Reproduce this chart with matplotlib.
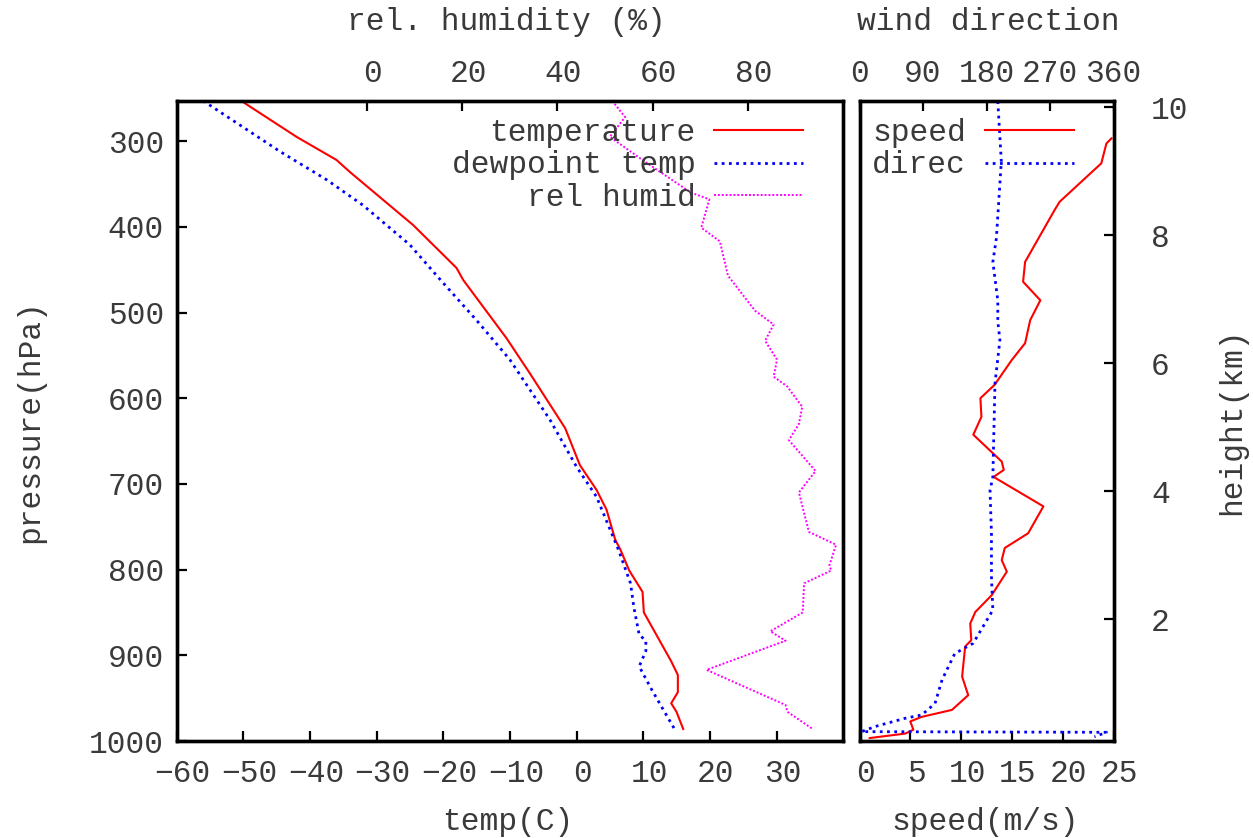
import matplotlib
matplotlib.use('Agg')
import matplotlib.pyplot as plt
from matplotlib.transforms import ScaledTranslation

plt.rcParams['font.family'] = ['Liberation Mono', 'DejaVu Sans Mono']
FS = 22.5
TXT = '#3a3a3a'

# ---- data ----
temp_p = [253, 295, 322, 336, 398, 448, 462, 530, 571, 635, 678, 707, 730, 765, 777,
          801, 826, 850, 907, 923, 943, 956, 966, 986]
temp_c = [-50.3, -42.0, -36.0, -34.0, -24.5, -18.0, -17.0, -10.5, -7.0, -1.7, 0.5, 3.0,
          4.5, 5.8, 6.6, 7.9, 9.9, 10.1, 14.2, 15.2, 15.2, 14.2, 15.0, 16.0]

dew_p = [253, 312, 345, 375, 421, 462, 509, 555, 625, 680, 715, 762, 777, 816, 844,
         876, 883, 895, 913, 939, 966, 986]
dew_c = [-56.0, -44.5, -37.5, -32.0, -25.0, -20.4, -15.0, -10.0, -4.0, 0.0, 3.0, 5.5,
         6.3, 8.1, 8.6, 9.4, 10.4, 10.4, 9.4, 11.2, 13.2, 14.7]

rh_p = [253, 272, 295, 323, 360, 368, 401, 417, 457, 498, 514, 533, 555, 575, 586, 610,
        630, 649, 685, 710, 756, 771, 795, 801, 816, 850, 872, 883, 917, 958, 966, 986]
rh_pct = [51.5, 54.2, 51.0, 58.1, 68.0, 71.9, 70.2, 74.1, 75.8, 81.5, 85.4, 83.6, 86.1,
          85.4, 88.2, 91.4, 90.7, 88.6, 94.2, 90.7, 92.8, 98.5, 97.1, 97.5, 91.8, 91.5,
          84.7, 87.9, 71.3, 87.9, 88.3, 93.6]

speed_h = [9.51, 9.43, 9.12, 8.52, 8.39, 7.58, 7.27, 6.98, 6.67, 6.31, 6.05, 5.66, 5.45,
           5.16, 4.88, 4.46, 4.33, 4.22, 3.76, 3.34, 3.11, 2.92, 2.74, 2.37, 2.11, 1.93,
           1.67, 1.57, 1.10, 0.81, 0.58, 0.47, 0.40, 0.27, 0.21, 0.14]
speed_ms = [24.8, 24.3, 23.8, 19.7, 19.2, 16.3, 16.1, 17.8, 16.8, 16.3, 15.0, 13.3, 11.9,
            12.0, 11.2, 14.0, 14.2, 13.2, 18.1, 16.6, 14.3, 14.0, 14.5, 13.0, 11.4, 10.9,
            11.0, 10.4, 10.1, 10.7, 9.1, 6.1, 5.0, 5.3, 4.5, 1.0]

dir_h = [10.09, 9.15, 7.95, 7.58, 6.98, 6.65, 6.36, 5.68, 4.22, 4.01, 3.34, 2.66, 2.14,
         1.62, 1.46, 1.05, 0.68, 0.50, 0.45, 0.32, 0.24, 0.23, 0.16]
dir_deg = [196, 201, 194, 189, 196, 196, 199, 192, 189, 185, 187, 187, 189, 161, 135,
           117, 107, 88, 65, 22, 3, 350, 333]

temp_ticks = [-60, -50, -40, -30, -20, -10, 0, 10, 20, 30]
p_ticks = [300, 400, 500, 600, 700, 800, 900, 1000]
rh_ticks = [0, 20, 40, 60, 80]
speed_ticks = [0, 5, 10, 15, 20, 25]
dir_ticks = [0, 90, 180, 270, 360]
h_ticks = [2, 4, 6, 8, 10]

# ---- figure ----
W, H = 1253, 838
fig = plt.figure(figsize=(W / 100, H / 100), dpi=100)


def rect(x0, x1, y0, y1):
    return [x0 / W, 1 - y1 / H, (x1 - x0) / W, (y1 - y0) / H]


ax1 = fig.add_axes(rect(176.5, 843.2, 101, 741))
ax1t = ax1.twiny()
ax2 = fig.add_axes(rect(859.5, 1113.5, 101, 741))
ax2t = ax2.twiny()

h_t, = ax1.plot(temp_c, temp_p, color='#ff0000', lw=1.5, label='temperature')
h_d, = ax1.plot(dew_c, dew_p, color='#0000ff', lw=2.0, ls=(0, (1, 1.6)), label='dewpoint temp')
h_r, = ax1t.plot(rh_pct, rh_p, color='#ff00ff', lw=1.4, ls=(0, (1, 1)), label='rel humid')

h_s, = ax2.plot(speed_ms, speed_h, color='#ff0000', lw=1.5, label='speed')
h_w, = ax2t.plot(dir_deg, dir_h, color='#0000ff', lw=2.0, ls=(0, (1, 1.6)), label='direc')

ax1.set_xlim(-60, 40)
ax1.set_ylim(1000, 253.2)
ax1.set_xticks(temp_ticks)
ax1.set_yticks(p_ticks)
ax1t.set_xlim(-40, 100)
ax1t.set_xticks(rh_ticks)

ax2.set_xlim(0, 25)
ax2.set_ylim(0.094, 10.094)
ax2.set_xticks(speed_ticks)
ax2.set_yticks(h_ticks)
ax2.yaxis.tick_right()
ax2.yaxis.set_label_position('right')
ax2t.set_xlim(0, 360)
ax2t.set_xticks(dir_ticks)

common = dict(direction='in', length=7, width=1.6, labelsize=FS, labelcolor=TXT, color='black')
ax1.tick_params(axis='x', bottom=True, top=False, pad=13, **common)
ax1.tick_params(axis='y', left=True, right=False, pad=9, **common)
ax1t.tick_params(axis='x', top=True, bottom=False, pad=9, **common)
ax2.tick_params(axis='x', bottom=True, top=False, pad=13, **common)
ax2.tick_params(axis='y', left=False, right=True, pad=27, **common)
ax2t.tick_params(axis='x', top=True, bottom=False, pad=9, **common)

# gnuplot-like slight right shift of horizontal tick labels
shift = ScaledTranslation(6 / 100, 0, fig.dpi_scale_trans)
for a in (ax1, ax1t, ax2):
    for lab in a.get_xticklabels():
        lab.set_transform(lab.get_transform() + shift)

for a in (ax1, ax1t, ax2, ax2t):
    for s in a.spines.values():
        s.set_linewidth(2.4)

# axis labels
ax1.set_xlabel('temp(C)', fontsize=FS, color=TXT, va='center')
ax1.xaxis.set_label_coords(0.4972, -0.1266)
ax1.set_ylabel('pressure(hPa)', fontsize=FS, color=TXT, va='center')
ax1.yaxis.set_label_coords(-0.2197, 0.5)
ax1t.set_xlabel('rel. humidity (%)', fontsize=FS, color=TXT, va='center')
ax1t.xaxis.set_label_coords(0.4942, 1.1234)
ax2.set_xlabel('speed(m/s)', fontsize=FS, color=TXT, va='center')
ax2.xaxis.set_label_coords(0.494, -0.1266)
ax2.set_ylabel('height(km)', fontsize=FS, color=TXT, va='center', rotation=90)
ax2.yaxis.set_label_coords(1.4665, 0.5)
ax2t.set_xlabel('wind direction', fontsize=FS, color=TXT, va='center')
ax2t.xaxis.set_label_coords(0.506, 1.1234)

leg_kw = dict(markerfirst=False, frameon=False, fontsize=FS, labelcolor=TXT,
              handlelength=2.85, handletextpad=0.6, labelspacing=0.09,
              borderaxespad=0, borderpad=0)
ax1t.legend(handles=[h_t, h_d, h_r], loc='upper right', bbox_to_anchor=(0.94, 0.974), **leg_kw)
ax2t.legend(handles=[h_s, h_w], loc='upper left', bbox_to_anchor=(0.05, 0.974), **leg_kw)

fig.savefig('out.png', dpi=100)
